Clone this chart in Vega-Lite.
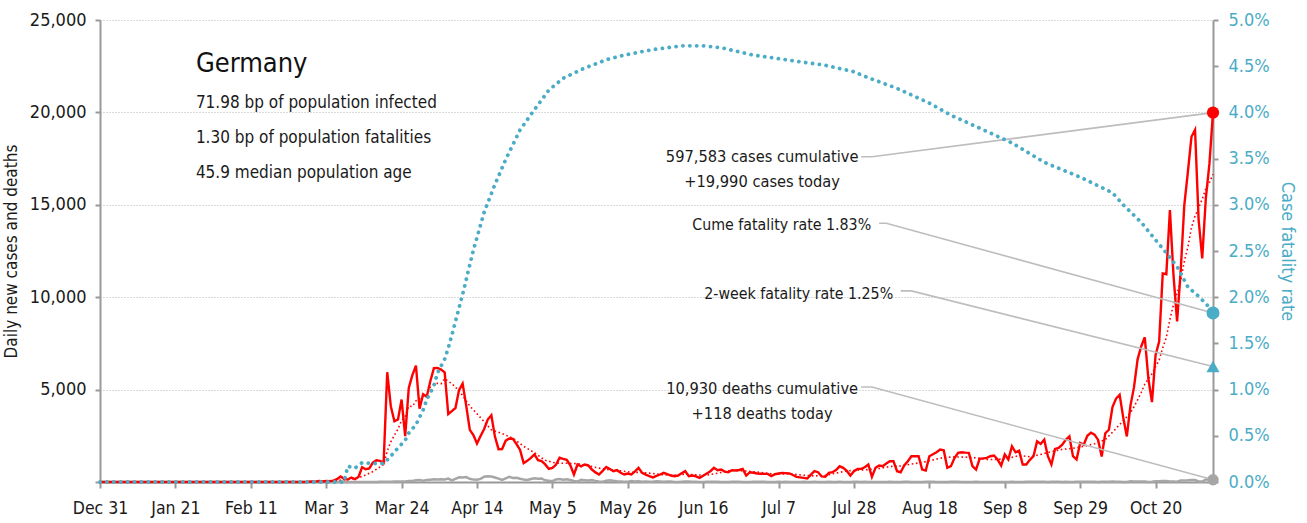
{
  "$schema": "https://vega.github.io/schema/vega-lite/v6.json",
  "width": 1113,
  "height": 462,
  "autosize": {"type": "none"},
  "padding": {"left": 100, "top": 20, "right": 94, "bottom": 41},
  "background": "#ffffff",
  "config": {
    "font": "'DejaVu Sans Condensed', Roboto, sans-serif",
    "view": {"stroke": null}
  },
  "datasets": {
    "daily": [
      {"date":"2019-12-31","cases":0,"deaths":0},
      {"date":"2020-02-20","cases":0,"deaths":0},{"date":"2020-02-21","cases":0,"deaths":0},{"date":"2020-02-22","cases":0,"deaths":0},{"date":"2020-02-23","cases":0,"deaths":0},{"date":"2020-02-24","cases":0,"deaths":0},{"date":"2020-02-25","cases":1,"deaths":0},{"date":"2020-02-26","cases":4,"deaths":0},{"date":"2020-02-27","cases":10,"deaths":0},{"date":"2020-02-28","cases":30,"deaths":0},{"date":"2020-02-29","cases":20,"deaths":0},
      {"date":"2020-03-01","cases":57,"deaths":0},{"date":"2020-03-02","cases":28,"deaths":0},{"date":"2020-03-03","cases":52,"deaths":0},{"date":"2020-03-04","cases":40,"deaths":0},{"date":"2020-03-05","cases":70,"deaths":0},{"date":"2020-03-06","cases":150,"deaths":0},{"date":"2020-03-07","cases":300,"deaths":0},{"date":"2020-03-08","cases":170,"deaths":0},{"date":"2020-03-09","cases":136,"deaths":2},{"date":"2020-03-10","cases":240,"deaths":0},
      {"date":"2020-03-11","cases":157,"deaths":1},{"date":"2020-03-12","cases":270,"deaths":1},{"date":"2020-03-13","cases":802,"deaths":2},{"date":"2020-03-14","cases":693,"deaths":0},{"date":"2020-03-15","cases":733,"deaths":3},{"date":"2020-03-16","cases":1043,"deaths":4},{"date":"2020-03-17","cases":1174,"deaths":0},{"date":"2020-03-18","cases":1144,"deaths":8},{"date":"2020-03-19","cases":1042,"deaths":11},{"date":"2020-03-20","cases":5940,"deaths":16},
      {"date":"2020-03-21","cases":4100,"deaths":8},{"date":"2020-03-22","cases":3290,"deaths":31},{"date":"2020-03-23","cases":3380,"deaths":28},{"date":"2020-03-24","cases":4460,"deaths":24},{"date":"2020-03-25","cases":2480,"deaths":33},{"date":"2020-03-26","cases":5090,"deaths":49},{"date":"2020-03-27","cases":5780,"deaths":55},{"date":"2020-03-28","cases":6294,"deaths":89},{"date":"2020-03-29","cases":3965,"deaths":108},{"date":"2020-03-30","cases":4751,"deaths":75},{"date":"2020-03-31","cases":4615,"deaths":104},
      {"date":"2020-04-01","cases":5453,"deaths":128},{"date":"2020-04-02","cases":6156,"deaths":149},{"date":"2020-04-03","cases":6174,"deaths":140},{"date":"2020-04-04","cases":6082,"deaths":145},{"date":"2020-04-05","cases":5936,"deaths":141},{"date":"2020-04-06","cases":3677,"deaths":184},{"date":"2020-04-07","cases":3834,"deaths":92},{"date":"2020-04-08","cases":4003,"deaths":173},{"date":"2020-04-09","cases":4974,"deaths":254},{"date":"2020-04-10","cases":5323,"deaths":246},
      {"date":"2020-04-11","cases":4133,"deaths":266},{"date":"2020-04-12","cases":2821,"deaths":171},{"date":"2020-04-13","cases":2537,"deaths":129},{"date":"2020-04-14","cases":2082,"deaths":126},{"date":"2020-04-15","cases":2486,"deaths":170},{"date":"2020-04-16","cases":2866,"deaths":285},{"date":"2020-04-17","cases":3380,"deaths":315},{"date":"2020-04-18","cases":3609,"deaths":299},{"date":"2020-04-19","cases":2458,"deaths":242},{"date":"2020-04-20","cases":1775,"deaths":184},
      {"date":"2020-04-21","cases":1785,"deaths":110},{"date":"2020-04-22","cases":2237,"deaths":194},{"date":"2020-04-23","cases":2352,"deaths":281},{"date":"2020-04-24","cases":2337,"deaths":215},{"date":"2020-04-25","cases":2055,"deaths":227},{"date":"2020-04-26","cases":1737,"deaths":179},{"date":"2020-04-27","cases":1018,"deaths":140},{"date":"2020-04-28","cases":1144,"deaths":110},{"date":"2020-04-29","cases":1304,"deaths":163},{"date":"2020-04-30","cases":1490,"deaths":202},
      {"date":"2020-05-01","cases":1180,"deaths":173},{"date":"2020-05-02","cases":1130,"deaths":193},{"date":"2020-05-03","cases":950,"deaths":94},{"date":"2020-05-04","cases":710,"deaths":74},{"date":"2020-05-05","cases":760,"deaths":43},{"date":"2020-05-06","cases":930,"deaths":139},{"date":"2020-05-07","cases":1310,"deaths":165},{"date":"2020-05-08","cases":1250,"deaths":123},{"date":"2020-05-09","cases":1200,"deaths":147},{"date":"2020-05-10","cases":900,"deaths":105},
      {"date":"2020-05-11","cases":405,"deaths":54},{"date":"2020-05-12","cases":945,"deaths":25},{"date":"2020-05-13","cases":850,"deaths":116},{"date":"2020-05-14","cases":945,"deaths":101},{"date":"2020-05-15","cases":900,"deaths":87},{"date":"2020-05-16","cases":675,"deaths":101},{"date":"2020-05-17","cases":520,"deaths":60},{"date":"2020-05-18","cases":405,"deaths":26},{"date":"2020-05-19","cases":600,"deaths":10},{"date":"2020-05-20","cases":810,"deaths":72},
      {"date":"2020-05-21","cases":700,"deaths":89},{"date":"2020-05-22","cases":585,"deaths":62},{"date":"2020-05-23","cases":640,"deaths":42},{"date":"2020-05-24","cases":500,"deaths":31},{"date":"2020-05-25","cases":405,"deaths":11},{"date":"2020-05-26","cases":460,"deaths":10},{"date":"2020-05-27","cases":405,"deaths":47},{"date":"2020-05-28","cases":580,"deaths":28},{"date":"2020-05-29","cases":765,"deaths":39},{"date":"2020-05-30","cases":495,"deaths":19},{"date":"2020-05-31","cases":400,"deaths":33},
      {"date":"2020-06-01","cases":315,"deaths":10},{"date":"2020-06-02","cases":250,"deaths":11},{"date":"2020-06-03","cases":330,"deaths":34},{"date":"2020-06-04","cases":405,"deaths":29},{"date":"2020-06-05","cases":495,"deaths":19},{"date":"2020-06-06","cases":420,"deaths":33},{"date":"2020-06-07","cases":350,"deaths":27},{"date":"2020-06-08","cases":315,"deaths":6},{"date":"2020-06-09","cases":350,"deaths":3},{"date":"2020-06-10","cases":470,"deaths":17},
      {"date":"2020-06-11","cases":585,"deaths":24},{"date":"2020-06-12","cases":315,"deaths":26},{"date":"2020-06-13","cases":350,"deaths":14},{"date":"2020-06-14","cases":300,"deaths":10},{"date":"2020-06-15","cases":225,"deaths":3},{"date":"2020-06-16","cases":340,"deaths":4},{"date":"2020-06-17","cases":460,"deaths":11},{"date":"2020-06-18","cases":585,"deaths":20},{"date":"2020-06-19","cases":765,"deaths":11},{"date":"2020-06-20","cases":640,"deaths":13},
      {"date":"2020-06-21","cases":675,"deaths":6},{"date":"2020-06-22","cases":560,"deaths":1},{"date":"2020-06-23","cases":530,"deaths":6},{"date":"2020-06-24","cases":640,"deaths":9},{"date":"2020-06-25","cases":620,"deaths":12},{"date":"2020-06-26","cases":650,"deaths":12},{"date":"2020-06-27","cases":710,"deaths":6},{"date":"2020-06-28","cases":350,"deaths":5},{"date":"2020-06-29","cases":530,"deaths":3},{"date":"2020-06-30","cases":500,"deaths":8},
      {"date":"2020-07-01","cases":460,"deaths":14},{"date":"2020-07-02","cases":450,"deaths":9},{"date":"2020-07-03","cases":440,"deaths":7},{"date":"2020-07-04","cases":440,"deaths":6},{"date":"2020-07-05","cases":315,"deaths":0},{"date":"2020-07-06","cases":420,"deaths":0},{"date":"2020-07-07","cases":460,"deaths":12},{"date":"2020-07-08","cases":495,"deaths":6},{"date":"2020-07-09","cases":480,"deaths":9},{"date":"2020-07-10","cases":460,"deaths":6},
      {"date":"2020-07-11","cases":380,"deaths":3},{"date":"2020-07-12","cases":280,"deaths":1},{"date":"2020-07-13","cases":250,"deaths":1},{"date":"2020-07-14","cases":220,"deaths":7},{"date":"2020-07-15","cases":190,"deaths":5},{"date":"2020-07-16","cases":400,"deaths":5},{"date":"2020-07-17","cases":585,"deaths":7},{"date":"2020-07-18","cases":530,"deaths":6},{"date":"2020-07-19","cases":300,"deaths":1},{"date":"2020-07-20","cases":280,"deaths":1},
      {"date":"2020-07-21","cases":495,"deaths":9},{"date":"2020-07-22","cases":530,"deaths":4},{"date":"2020-07-23","cases":650,"deaths":6},{"date":"2020-07-24","cases":850,"deaths":7},{"date":"2020-07-25","cases":765,"deaths":4},{"date":"2020-07-26","cases":600,"deaths":2},{"date":"2020-07-27","cases":350,"deaths":4},{"date":"2020-07-28","cases":585,"deaths":10},{"date":"2020-07-29","cases":710,"deaths":8},{"date":"2020-07-30","cases":710,"deaths":4},{"date":"2020-07-31","cases":800,"deaths":8},
      {"date":"2020-08-01","cases":945,"deaths":5},{"date":"2020-08-02","cases":280,"deaths":1},{"date":"2020-08-03","cases":765,"deaths":6},{"date":"2020-08-04","cases":890,"deaths":6},{"date":"2020-08-05","cases":855,"deaths":6},{"date":"2020-08-06","cases":1000,"deaths":6},{"date":"2020-08-07","cases":1125,"deaths":9},{"date":"2020-08-08","cases":1125,"deaths":6},{"date":"2020-08-09","cases":585,"deaths":1},{"date":"2020-08-10","cases":530,"deaths":4},
      {"date":"2020-08-11","cases":900,"deaths":10},{"date":"2020-08-12","cases":1125,"deaths":7},{"date":"2020-08-13","cases":1395,"deaths":6},{"date":"2020-08-14","cases":1395,"deaths":5},{"date":"2020-08-15","cases":1395,"deaths":1},{"date":"2020-08-16","cases":675,"deaths":1},{"date":"2020-08-17","cases":620,"deaths":10},{"date":"2020-08-18","cases":1395,"deaths":11},{"date":"2020-08-19","cases":1500,"deaths":13},{"date":"2020-08-20","cases":1610,"deaths":4},
      {"date":"2020-08-21","cases":1755,"deaths":2},{"date":"2020-08-22","cases":1720,"deaths":0},{"date":"2020-08-23","cases":765,"deaths":1},{"date":"2020-08-24","cases":855,"deaths":8},{"date":"2020-08-25","cases":1300,"deaths":9},{"date":"2020-08-26","cases":1575,"deaths":9},{"date":"2020-08-27","cases":1610,"deaths":2},{"date":"2020-08-28","cases":1590,"deaths":1},{"date":"2020-08-29","cases":1575,"deaths":1},{"date":"2020-08-30","cases":855,"deaths":1},{"date":"2020-08-31","cases":675,"deaths":9},
      {"date":"2020-09-01","cases":1250,"deaths":6},{"date":"2020-09-02","cases":1280,"deaths":5},{"date":"2020-09-03","cases":1305,"deaths":5},{"date":"2020-09-04","cases":1395,"deaths":6},{"date":"2020-09-05","cases":1435,"deaths":2},{"date":"2020-09-06","cases":1215,"deaths":1},{"date":"2020-09-07","cases":890,"deaths":4},{"date":"2020-09-08","cases":1490,"deaths":5},{"date":"2020-09-09","cases":1215,"deaths":5},{"date":"2020-09-10","cases":1935,"deaths":10},
      {"date":"2020-09-11","cases":1610,"deaths":5},{"date":"2020-09-12","cases":1700,"deaths":1},{"date":"2020-09-13","cases":945,"deaths":0},{"date":"2020-09-14","cases":945,"deaths":7},{"date":"2020-09-15","cases":1200,"deaths":10},{"date":"2020-09-16","cases":1395,"deaths":11},{"date":"2020-09-17","cases":2200,"deaths":9},{"date":"2020-09-18","cases":2060,"deaths":13},{"date":"2020-09-19","cases":2290,"deaths":7},{"date":"2020-09-20","cases":1395,"deaths":0},
      {"date":"2020-09-21","cases":945,"deaths":9},{"date":"2020-09-22","cases":1790,"deaths":12},{"date":"2020-09-23","cases":1845,"deaths":13},{"date":"2020-09-24","cases":2020,"deaths":6},{"date":"2020-09-25","cases":2290,"deaths":11},{"date":"2020-09-26","cases":2470,"deaths":6},{"date":"2020-09-27","cases":1395,"deaths":1},{"date":"2020-09-28","cases":1215,"deaths":14},{"date":"2020-09-29","cases":2110,"deaths":15},{"date":"2020-09-30","cases":2020,"deaths":14},
      {"date":"2020-10-01","cases":2503,"deaths":18},{"date":"2020-10-02","cases":2673,"deaths":12},{"date":"2020-10-03","cases":2563,"deaths":11},{"date":"2020-10-04","cases":2279,"deaths":1},{"date":"2020-10-05","cases":1382,"deaths":12},{"date":"2020-10-06","cases":2639,"deaths":13},{"date":"2020-10-07","cases":2828,"deaths":16},{"date":"2020-10-08","cases":4058,"deaths":27},{"date":"2020-10-09","cases":4516,"deaths":9},{"date":"2020-10-10","cases":4721,"deaths":14},
      {"date":"2020-10-11","cases":3483,"deaths":6},{"date":"2020-10-12","cases":2467,"deaths":0},{"date":"2020-10-13","cases":4122,"deaths":37},{"date":"2020-10-14","cases":5132,"deaths":33},{"date":"2020-10-15","cases":6638,"deaths":33},{"date":"2020-10-16","cases":7334,"deaths":24},{"date":"2020-10-17","cases":7830,"deaths":33},{"date":"2020-10-18","cases":5587,"deaths":6},{"date":"2020-10-19","cases":4325,"deaths":11},{"date":"2020-10-20","cases":6868,"deaths":47},
      {"date":"2020-10-21","cases":7595,"deaths":39},{"date":"2020-10-22","cases":11287,"deaths":49},{"date":"2020-10-23","cases":11242,"deaths":49},{"date":"2020-10-24","cases":14714,"deaths":29},{"date":"2020-10-25","cases":11176,"deaths":29},{"date":"2020-10-26","cases":8685,"deaths":19},{"date":"2020-10-27","cases":11409,"deaths":85},{"date":"2020-10-28","cases":14964,"deaths":85},{"date":"2020-10-29","cases":16774,"deaths":89},{"date":"2020-10-30","cases":18681,"deaths":103},{"date":"2020-10-31","cases":19059,"deaths":103},
      {"date":"2020-11-01","cases":14177,"deaths":29},{"date":"2020-11-02","cases":12097,"deaths":23},{"date":"2020-11-03","cases":15352,"deaths":131},{"date":"2020-11-04","cases":17214,"deaths":151},{"date":"2020-11-05","cases":19990,"deaths":118}
    ],
    "ma": [
      {"date":"2019-12-31","ma":0},{"date":"2020-02-24","ma":0},{"date":"2020-02-29","ma":10},{"date":"2020-03-04","ma":34},{"date":"2020-03-07","ma":100},{"date":"2020-03-10","ma":158},{"date":"2020-03-13","ma":296},{"date":"2020-03-16","ma":563},{"date":"2020-03-19","ma":947},{"date":"2020-03-20","ma":1681},{"date":"2020-03-21","ma":2168},{"date":"2020-03-22","ma":2533},{"date":"2020-03-23","ma":2867},{"date":"2020-03-24","ma":3337},{"date":"2020-03-25","ma":3527},{"date":"2020-03-26","ma":4106},{"date":"2020-03-27","ma":4083},{"date":"2020-03-28","ma":4396},{"date":"2020-03-29","ma":4493},{"date":"2020-03-30","ma":4689},{"date":"2020-03-31","ma":4711},
      {"date":"2020-04-01","ma":5135},{"date":"2020-04-02","ma":5288},{"date":"2020-04-03","ma":5344},{"date":"2020-04-04","ma":5314},{"date":"2020-04-05","ma":5595},{"date":"2020-04-06","ma":5442},{"date":"2020-04-07","ma":5330},{"date":"2020-04-08","ma":5123},{"date":"2020-04-09","ma":4954},{"date":"2020-04-12","ma":4109},{"date":"2020-04-15","ma":3479},{"date":"2020-04-18","ma":2826},{"date":"2020-04-21","ma":2623},{"date":"2020-04-24","ma":2365},{"date":"2020-04-27","ma":1932},{"date":"2020-04-30","ma":1584},
      {"date":"2020-05-03","ma":1174},{"date":"2020-05-06","ma":1021},{"date":"2020-05-09","ma":1016},{"date":"2020-05-12","ma":991},{"date":"2020-05-15","ma":878},{"date":"2020-05-18","ma":749},{"date":"2020-05-21","ma":659},{"date":"2020-05-24","ma":606},{"date":"2020-05-27","ma":528},{"date":"2020-05-30","ma":516},
      {"date":"2020-06-02","ma":459},{"date":"2020-06-05","ma":384},{"date":"2020-06-08","ma":366},{"date":"2020-06-11","ma":426},{"date":"2020-06-14","ma":384},{"date":"2020-06-17","ma":368},{"date":"2020-06-20","ma":474},{"date":"2020-06-23","ma":602},{"date":"2020-06-26","ma":616},{"date":"2020-06-29","ma":576},
      {"date":"2020-07-02","ma":521},{"date":"2020-07-05","ma":448},{"date":"2020-07-08","ma":431},{"date":"2020-07-11","ma":430},{"date":"2020-07-14","ma":366},{"date":"2020-07-17","ma":329},{"date":"2020-07-20","ma":358},{"date":"2020-07-23","ma":481},{"date":"2020-07-26","ma":596},{"date":"2020-07-29","ma":644},
      {"date":"2020-08-01","ma":671},{"date":"2020-08-04","ma":729},{"date":"2020-08-07","ma":837},{"date":"2020-08-10","ma":873},{"date":"2020-08-13","ma":969},{"date":"2020-08-16","ma":1059},{"date":"2020-08-19","ma":1196},{"date":"2020-08-22","ma":1325},{"date":"2020-08-25","ma":1358},{"date":"2020-08-28","ma":1345},{"date":"2020-08-31","ma":1311},
      {"date":"2020-09-03","ma":1219},{"date":"2020-09-06","ma":1222},{"date":"2020-09-09","ma":1278},{"date":"2020-09-12","ma":1436},{"date":"2020-09-15","ma":1364},{"date":"2020-09-18","ma":1492},{"date":"2020-09-21","ma":1641},{"date":"2020-09-24","ma":1764},{"date":"2020-09-27","ma":1822},{"date":"2020-09-30","ma":1931},
      {"date":"2020-10-03","ma":2068},{"date":"2020-10-06","ma":2294},{"date":"2020-10-09","ma":2895},{"date":"2020-10-12","ma":3530},{"date":"2020-10-13","ma":3742},{"date":"2020-10-14","ma":4071},{"date":"2020-10-15","ma":4440},{"date":"2020-10-16","ma":4842},{"date":"2020-10-17","ma":5287},{"date":"2020-10-18","ma":5587},{"date":"2020-10-19","ma":5853},{"date":"2020-10-20","ma":6245},{"date":"2020-10-21","ma":6597},{"date":"2020-10-22","ma":7261},{"date":"2020-10-23","ma":7819},{"date":"2020-10-24","ma":8803},{"date":"2020-10-25","ma":9601},{"date":"2020-10-26","ma":10224},{"date":"2020-10-27","ma":10873},{"date":"2020-10-28","ma":11925},{"date":"2020-10-29","ma":12709},{"date":"2020-10-30","ma":13772},{"date":"2020-10-31","ma":14393},
      {"date":"2020-11-01","ma":14821},{"date":"2020-11-02","ma":15309},{"date":"2020-11-03","ma":15872},{"date":"2020-11-04","ma":16193},{"date":"2020-11-05","ma":16653}
    ],
    "cfr": [
      {"date":"2019-12-31","cfr":0},{"date":"2020-03-08","cfr":0},{"date":"2020-03-09","cfr":0.0017},{"date":"2020-03-11","cfr":0.0015},{"date":"2020-03-13","cfr":0.0021},{"date":"2020-03-16","cfr":0.002},{"date":"2020-03-19","cfr":0.002},{"date":"2020-03-21","cfr":0.0028},{"date":"2020-03-23","cfr":0.0037},{"date":"2020-03-25","cfr":0.0045},{"date":"2020-03-26","cfr":0.0053},{"date":"2020-03-28","cfr":0.0062},{"date":"2020-03-30","cfr":0.0078},{"date":"2020-03-31","cfr":0.0089},
      {"date":"2020-04-02","cfr":0.0104},{"date":"2020-04-03","cfr":0.0118},{"date":"2020-04-05","cfr":0.0133},{"date":"2020-04-06","cfr":0.0145},{"date":"2020-04-07","cfr":0.0159},{"date":"2020-04-10","cfr":0.0203},{"date":"2020-04-13","cfr":0.0251},{"date":"2020-04-16","cfr":0.0292},{"date":"2020-04-19","cfr":0.0322},{"date":"2020-04-22","cfr":0.0349},{"date":"2020-04-26","cfr":0.0381},{"date":"2020-04-30","cfr":0.0403},
      {"date":"2020-05-04","cfr":0.0424},{"date":"2020-05-08","cfr":0.0437},{"date":"2020-05-14","cfr":0.0448},{"date":"2020-05-20","cfr":0.0457},{"date":"2020-05-25","cfr":0.0462},{"date":"2020-06-02","cfr":0.0468},{"date":"2020-06-10","cfr":0.0472},{"date":"2020-06-16","cfr":0.0472},{"date":"2020-06-21","cfr":0.047},{"date":"2020-06-30","cfr":0.0462},
      {"date":"2020-07-09","cfr":0.0457},{"date":"2020-07-20","cfr":0.0451},{"date":"2020-07-28","cfr":0.0444},{"date":"2020-07-31","cfr":0.0439},{"date":"2020-08-09","cfr":0.0426},{"date":"2020-08-18","cfr":0.041},{"date":"2020-08-24","cfr":0.0397},{"date":"2020-09-01","cfr":0.0383},{"date":"2020-09-10","cfr":0.0367},{"date":"2020-09-19","cfr":0.0346},{"date":"2020-09-29","cfr":0.033},
      {"date":"2020-10-08","cfr":0.0313},{"date":"2020-10-11","cfr":0.03},{"date":"2020-10-16","cfr":0.0281},{"date":"2020-10-20","cfr":0.0262},{"date":"2020-10-23","cfr":0.0248},{"date":"2020-10-26","cfr":0.0233},{"date":"2020-10-29","cfr":0.0211},{"date":"2020-11-01","cfr":0.0201},{"date":"2020-11-04","cfr":0.0189},{"date":"2020-11-05","cfr":0.0183}
    ],
    "latest": [
      {"date":"2020-11-05","cases":19990,"deaths":118,"cfr":0.0183,"cfr2w":0.0125}
    ],
    "leaders": [
      {"grp":"a","o":1,"date":"2020-07-30","v":17600},{"grp":"a","o":2,"date":"2020-08-02","v":17600},{"grp":"a","o":3,"date":"2020-11-05","v":19990},
      {"grp":"b","o":1,"date":"2020-08-04","v":14000},{"grp":"b","o":2,"date":"2020-08-06","v":14000},{"grp":"b","o":3,"date":"2020-11-05","v":9150},
      {"grp":"c","o":1,"date":"2020-08-10","v":10340},{"grp":"c","o":2,"date":"2020-08-13","v":10340},{"grp":"c","o":3,"date":"2020-11-05","v":6250},
      {"grp":"d","o":1,"date":"2020-07-30","v":5140},{"grp":"d","o":2,"date":"2020-08-02","v":5140},{"grp":"d","o":3,"date":"2020-11-05","v":118}
    ],
    "notes": [
      {"kind":"title","date":"2020-01-26T17:00:00Z","v":22600,"text":"Germany"},
      {"kind":"stat","date":"2020-01-26T17:00:00Z","v":20508,"text":"71.98 bp of population infected"},
      {"kind":"stat","date":"2020-01-26T17:00:00Z","v":18614,"text":"1.30 bp of population fatalities"},
      {"kind":"stat","date":"2020-01-26T17:00:00Z","v":16720,"text":"45.9 median population age"},
      {"kind":"center","date":"2020-07-02T10:00:00Z","v":17613,"text":"597,583 cases cumulative\n+19,990 cases today"},
      {"kind":"center","date":"2020-07-02T10:00:00Z","v":5059,"text":"10,930 deaths cumulative\n+118 deaths today"},
      {"kind":"right","date":"2020-08-01T19:00:00Z","v":13906,"text":"Cume fatality rate 1.83%"},
      {"kind":"right","date":"2020-08-07T22:00:00Z","v":10200,"text":"2-week fatality rate 1.25%"}
    ]
  },
  "layer": [
    {
      "data": {"name": "daily"},
      "mark": {"type": "line", "color": "#a6a6a6", "strokeWidth": 2.5},
      "encoding": {
        "x": {
          "field": "date",
          "type": "temporal",
          "scale": {"type": "utc", "domain": [1577750400000, 1604534400000]},
          "axis": {
            "values": [1577750400000, 1579564800000, 1581379200000, 1583193600000, 1585008000000, 1586822400000, 1588636800000, 1590451200000, 1592265600000, 1594080000000, 1595894400000, 1597708800000, 1599523200000, 1601337600000, 1603152000000],
            "format": "%b %-d",
            "title": null,
            "grid": false,
            "labelFontSize": 17.5,
            "labelColor": "#1a1a1a",
            "labelPadding": 11,
            "labelOverlap": false,
            "labelFlush": false,
            "labelBound": false,
            "tickColor": "#999999",
            "tickWidth": 2,
            "tickSize": 6,
            "domainColor": "#999999",
            "domainWidth": 2
          }
        },
        "y": {
          "field": "deaths",
          "type": "quantitative",
          "scale": {"domain": [0, 25000]},
          "axis": {
            "values": [0, 5000, 10000, 15000, 20000, 25000],
            "labelExpr": "datum.value == 0 ? '' : format(datum.value, ',')",
            "grid": true,
            "gridColor": "#b5b5b5",
            "gridDash": [1, 2],
            "gridWidth": 1,
            "domainColor": "#999999",
            "domainWidth": 2,
            "tickColor": "#999999",
            "tickWidth": 2,
            "tickSize": 5,
            "labelFontSize": 18,
            "labelColor": "#1a1a1a",
            "labelPadding": 9,
            "title": "Daily new cases and deaths",
            "titleFontSize": 17,
            "titleFontWeight": "normal",
            "titleColor": "#1a1a1a",
            "titlePadding": 9
          }
        }
      }
    },
    {
      "data": {"name": "daily"},
      "mark": {"type": "line", "color": "#ff0000", "strokeWidth": 2.4},
      "encoding": {
        "x": {"field": "date", "type": "temporal"},
        "y": {"field": "cases", "type": "quantitative", "scale": {"domain": [0, 25000]}, "axis": null}
      }
    },
    {
      "data": {"name": "ma"},
      "mark": {"type": "line", "color": "#ff0000", "strokeWidth": 1.6, "strokeDash": [1.6, 2.6]},
      "encoding": {
        "x": {"field": "date", "type": "temporal"},
        "y": {"field": "ma", "type": "quantitative", "scale": {"domain": [0, 25000]}, "axis": null}
      }
    },
    {
      "data": {"name": "leaders"},
      "mark": {"type": "line", "color": "#bdbdbd", "strokeWidth": 1.6},
      "encoding": {
        "x": {"field": "date", "type": "temporal"},
        "y": {"field": "v", "type": "quantitative", "scale": {"domain": [0, 25000]}, "axis": null},
        "detail": {"field": "grp"},
        "order": {"field": "o"}
      }
    },
    {
      "data": {"name": "latest"},
      "mark": {"type": "point", "shape": "circle", "filled": true, "opacity": 1, "color": "#a6a6a6", "size": 130},
      "encoding": {
        "x": {"field": "date", "type": "temporal"},
        "y": {"field": "deaths", "type": "quantitative", "scale": {"domain": [0, 25000]}, "axis": null}
      }
    },
    {
      "data": {"name": "latest"},
      "mark": {"type": "point", "shape": "circle", "filled": true, "opacity": 1, "color": "#ff0000", "size": 150},
      "encoding": {
        "x": {"field": "date", "type": "temporal"},
        "y": {"field": "cases", "type": "quantitative", "scale": {"domain": [0, 25000]}, "axis": null}
      }
    },
    {
      "data": {"name": "notes"},
      "transform": [{"filter": "datum.kind == 'title'"}],
      "mark": {"type": "text", "align": "left", "baseline": "middle", "fontSize": 27, "fontWeight": 500, "color": "#111111"},
      "encoding": {
        "x": {"field": "date", "type": "temporal"},
        "y": {"field": "v", "type": "quantitative", "scale": {"domain": [0, 25000]}, "axis": null},
        "text": {"field": "text"}
      }
    },
    {
      "data": {"name": "notes"},
      "transform": [{"filter": "datum.kind == 'stat'"}],
      "mark": {"type": "text", "align": "left", "baseline": "middle", "fontSize": 17, "color": "#1a1a1a"},
      "encoding": {
        "x": {"field": "date", "type": "temporal"},
        "y": {"field": "v", "type": "quantitative", "scale": {"domain": [0, 25000]}, "axis": null},
        "text": {"field": "text"}
      }
    },
    {
      "data": {"name": "notes"},
      "transform": [{"filter": "datum.kind == 'center'"}],
      "mark": {"type": "text", "align": "center", "baseline": "middle", "fontSize": 16.3, "lineHeight": 25, "lineBreak": "\n", "color": "#1a1a1a"},
      "encoding": {
        "x": {"field": "date", "type": "temporal"},
        "y": {"field": "v", "type": "quantitative", "scale": {"domain": [0, 25000]}, "axis": null},
        "text": {"field": "text"}
      }
    },
    {
      "data": {"name": "notes"},
      "transform": [{"filter": "datum.kind == 'right'"}],
      "mark": {"type": "text", "align": "right", "baseline": "middle", "fontSize": 15.8, "color": "#1a1a1a"},
      "encoding": {
        "x": {"field": "date", "type": "temporal"},
        "y": {"field": "v", "type": "quantitative", "scale": {"domain": [0, 25000]}, "axis": null},
        "text": {"field": "text"}
      }
    },
    {
      "data": {"name": "cfr"},
      "mark": {"type": "line", "color": "#4bacc6", "strokeWidth": 3.8, "strokeDash": [0.1, 6.8], "strokeCap": "round"},
      "encoding": {
        "x": {"field": "date", "type": "temporal"},
        "y": {
          "field": "cfr",
          "type": "quantitative",
          "scale": {"domain": [0, 0.05]},
          "axis": {
            "orient": "right",
            "values": [0, 0.005, 0.01, 0.015, 0.02, 0.025, 0.03, 0.035, 0.04, 0.045, 0.05],
            "format": ".1%",
            "grid": false,
            "domainColor": "#999999",
            "domainWidth": 2,
            "tickColor": "#999999",
            "tickWidth": 2,
            "tickSize": 5,
            "labelFontSize": 18,
            "labelColor": "#4bacc6",
            "labelPadding": 10,
            "title": "Case fatality rate",
            "titleFontSize": 18,
            "titleFontWeight": "normal",
            "titleColor": "#4bacc6",
            "titlePadding": 8
          }
        }
      }
    },
    {
      "data": {"name": "latest"},
      "mark": {"type": "point", "shape": "circle", "filled": true, "opacity": 1, "color": "#4bacc6", "size": 170},
      "encoding": {
        "x": {"field": "date", "type": "temporal"},
        "y": {"field": "cfr", "type": "quantitative", "scale": {"domain": [0, 0.05]}, "axis": null}
      }
    },
    {
      "data": {"name": "latest"},
      "mark": {"type": "point", "shape": "triangle-up", "filled": true, "opacity": 1, "color": "#4bacc6", "size": 170},
      "encoding": {
        "x": {"field": "date", "type": "temporal"},
        "y": {"field": "cfr2w", "type": "quantitative", "scale": {"domain": [0, 0.05]}, "axis": null}
      }
    }
  ],
  "resolve": {"scale": {"y": "independent"}}
}
